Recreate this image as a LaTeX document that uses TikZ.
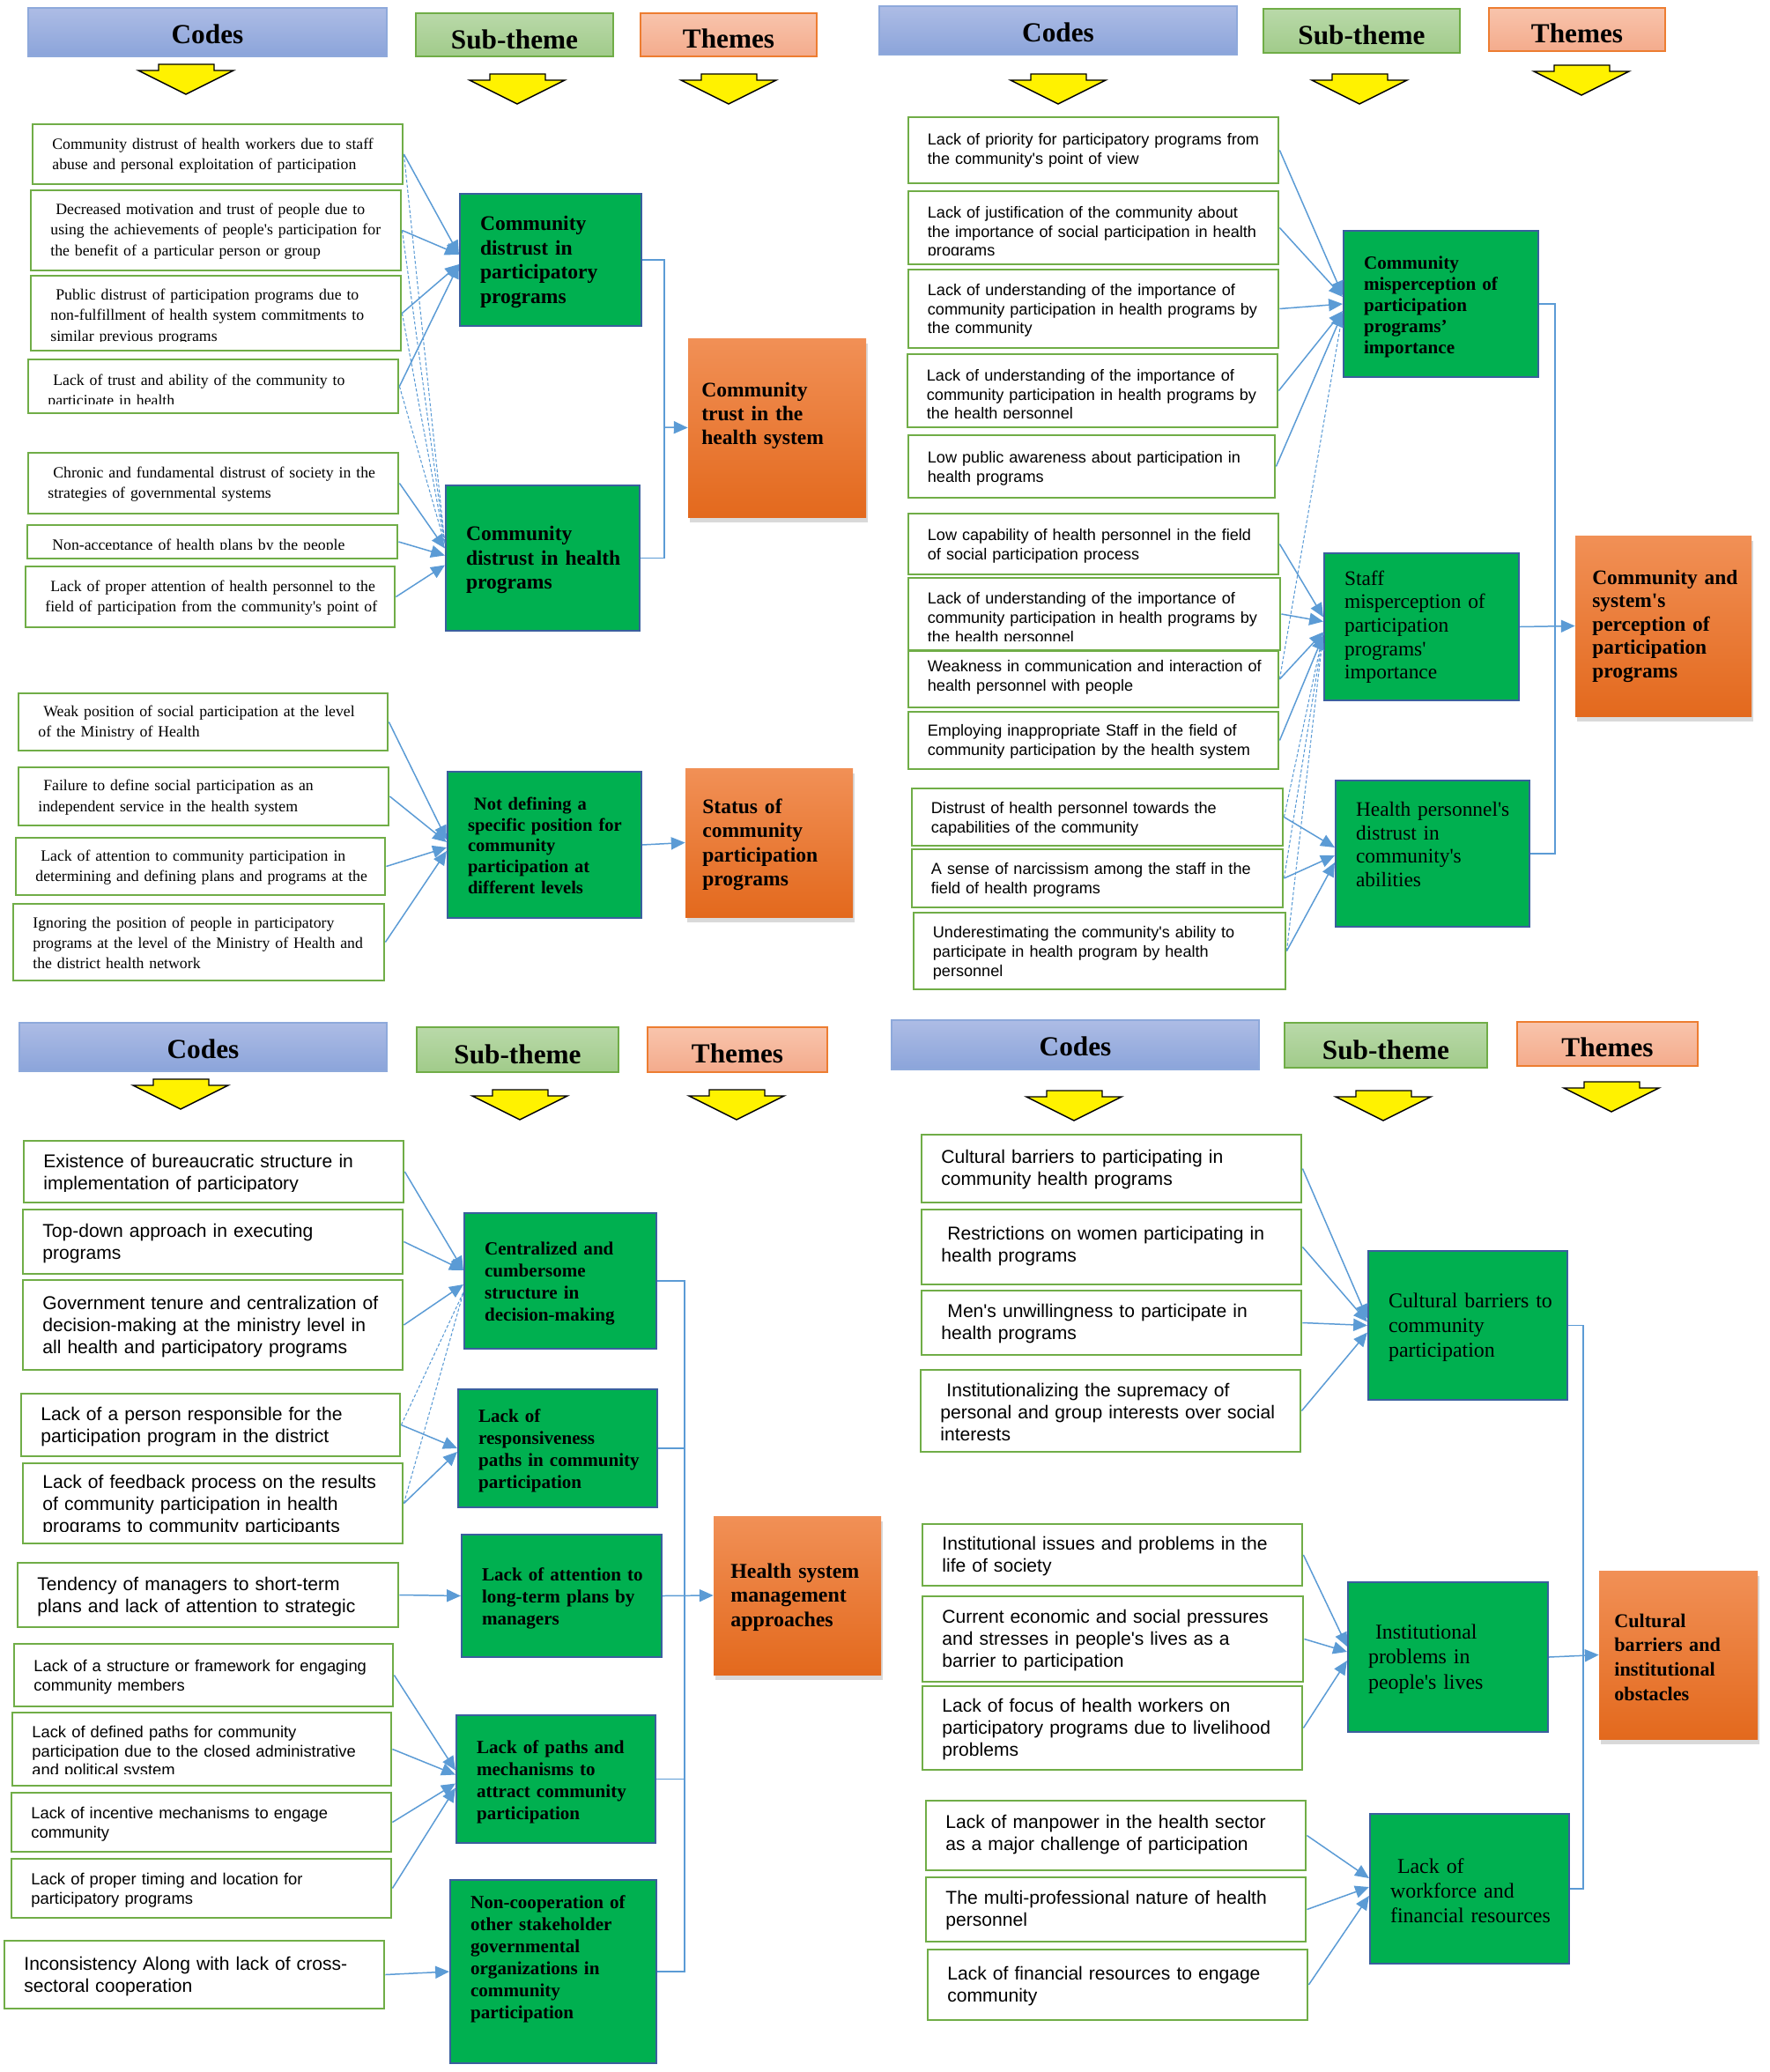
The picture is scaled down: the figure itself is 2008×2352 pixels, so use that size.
\documentclass[tikz,border=0pt]{standalone}
\usepackage{fontspec}
\setmainfont{Liberation Serif}[Ligatures=TeXOff]
\setsansfont{Liberation Sans}[Ligatures=TeXOff]
\usetikzlibrary{arrows.meta,fit,shadows}

\definecolor{codegreen}{HTML}{70AD47}
\definecolor{subgreen}{HTML}{00B050}
\definecolor{subblue}{HTML}{3A5F9E}
\definecolor{linkblue}{HTML}{5B9BD5}
\definecolor{themetop}{HTML}{F19056}
\definecolor{themebot}{HTML}{E3691D}
\definecolor{codestop}{HTML}{ADBCE5}
\definecolor{codesbot}{HTML}{8BA4DA}
\definecolor{codesline}{HTML}{8EA9DB}
\definecolor{subheadtop}{HTML}{B9D9A9}
\definecolor{subheadbot}{HTML}{A1CB8A}
\definecolor{themeheadtop}{HTML}{F8C4AC}
\definecolor{themeheadbot}{HTML}{F4AB8C}
\definecolor{themeheadline}{HTML}{ED7D31}

% yellow down arrow under a column head
\newcommand{\yarrow}[2]{\filldraw[fill=yellow, draw=black, line width=0.8pt, line join=miter, shift={(#1,#2)}] (23,0) -- (86,0) -- (86,7) -- (108,7) -- (54,34) -- (0,7) -- (23,7) -- cycle;}

\begin{document}
\begin{tikzpicture}[x=0.02cm, y=-0.02cm,
 clip inset/.initial=11,
 hdrtxt/.style={inner sep=0pt, font=\bfseries\fontsize{17.8}{20}\selectfont},
 hcodes/.style={draw=codesline, line width=1pt, top color=codestop, bottom color=codesbot, inner sep=0pt,
  path picture={\node[hdrtxt, yshift=-0.26cm] at (path picture bounding box.center) {#1};}},
 hsub/.style={draw=codegreen, line width=1pt, top color=subheadtop, bottom color=subheadbot, inner sep=0pt,
  path picture={\node[hdrtxt, yshift=-0.32cm] at (path picture bounding box.center) {#1};}},
 htheme/.style={draw=themeheadline, line width=1pt, top color=themeheadtop, bottom color=themeheadbot, inner sep=0pt,
  path picture={\node[hdrtxt, yshift=-0.3cm] at (path picture bounding box.center) {#1};}},
 codebox/.style={draw=codegreen, line width=1.6pt, fill=white, inner sep=0pt,
  path picture={\clip ([shift={(0,-\pgfkeysvalueof{/tikz/clip inset})}]path picture bounding box.south west) rectangle (path picture bounding box.north east);
   \node[codetxt] at (path picture bounding box.north west) {#1};}},
 codetxt/.style={anchor=north west, align=left, inner xsep=0.42cm, inner ysep=0.12cm},
 subbox/.style={draw=subblue, line width=1.2pt, fill=subgreen, inner sep=0pt,
  path picture={\node[subtxt] at (path picture bounding box.west) {#1};}},
 themebox/.style={top color=themetop, bottom color=themebot, inner sep=0pt,
  drop shadow={shadow xshift=0.04cm, shadow yshift=-0.12cm, opacity=0.3},
  path picture={\node[themetxt] at (path picture bounding box.west) {#1};}},
 arr/.style={draw=linkblue, line width=0.85pt, -{Triangle[length=9pt,width=8pt]}},
 dashlink/.style={draw=linkblue, line width=0.6pt, dash pattern=on 2pt off 1.3pt},
 busline/.style={draw=linkblue, line width=0.85pt}]
\useasboundingbox (0,0) rectangle (2008,2352);

% ---------- top left ----------
\begin{scope}[codetxt/.append style={font=\fontsize{10.1}{13.1}\selectfont, inner ysep=0.12cm},
 subtxt/.style={anchor=west, align=left, inner sep=0pt, xshift=0.44cm, yshift=-0.21cm, font=\bfseries\fontsize{13.4}{15.7}\selectfont},
 themetxt/.style={anchor=west, align=left, inner sep=0pt, xshift=0.38cm, yshift=-0.21cm, font=\bfseries\fontsize{13.4}{15.5}\selectfont}]
\node[hcodes=Codes, fit={(32,9) (439,64)}] (ah1) {};
\node[hsub=Sub-theme, fit={(472,15) (696,64)}] (ah2) {};
\node[htheme=Themes, fit={(727,15) (927,64)}] (ah3) {};
\yarrow{157}{73} \yarrow{533}{84} \yarrow{773}{84}

\node[codebox={Community distrust of health workers due to staff\\abuse and personal exploitation of participation}, fit={(37,141) (457,209)}] (a1) {};
\node[codebox={\ Decreased motivation and trust of people due to\\using the achievements of people's participation for\\the benefit of a particular person or group}, fit={(35,216) (455,307)}] (a2) {};
\node[codebox={\ Public distrust of participation programs due to\\non-fulfillment of health system commitments to\\similar previous programs}, codetxt/.append style={inner ysep=0.18cm}, fit={(35,313) (455,398)}] (a3) {};
\node[codebox={\ Lack of trust and ability of the community to\\participate in health}, codetxt/.append style={inner ysep=0.21cm}, fit={(32,408) (452,469)}] (a4) {};
\node[codebox={\ Chronic and fundamental distrust of society in the\\strategies of governmental systems}, fit={(32,514) (452,583)}] (a5) {};
\node[codebox={\ Non-acceptance of health plans by the people}, codetxt/.append style={inner ysep=0.21cm}, fit={(31,596) (451,634)}] (a6) {};
\node[codebox={\ Lack of proper attention of health personnel to the\\field of participation from the community's point of}, fit={(29,643) (448,712)}] (a7) {};
\node[codebox={\ Weak position of social participation at the level\\of the Ministry of Health}, fit={(21,787) (440,852)}] (a8) {};
\node[codebox={\ Failure to define social participation as an\\independent service in the health system}, fit={(21,871) (441,937)}] (a9) {};
\node[codebox={\ Lack of attention to community participation in\\determining and defining plans and programs at the}, fit={(18,951) (437,1016)}] (a10) {};
\node[codebox={Ignoring the position of people in participatory\\programs at the level of the Ministry of Health and\\the district health network}, fit={(15,1026) (436,1113)}] (a11) {};

\node[subbox={Community\\distrust in\\participatory\\programs}, fit={(522,220) (728,370)}] (as1) {};
\node[subbox={Community\\distrust in health\\programs}, fit={(506,551) (726,716)}] (as2) {};
\node[subbox={\ Not defining a\\specific position for\\community\\participation at\\different levels}, subtxt/.append style={yshift=0.05cm, font=\bfseries\fontsize{11.7}{13.6}\selectfont}, fit={(508,876) (728,1042)}] (as3) {};
\node[themebox={Community\\trust in the\\health system}, themetxt/.append style={xshift=-0.08cm, yshift=0.32cm}, fit={(781,384) (983,587)}] (at1) {};
\node[themebox={Status of\\community\\participation\\programs}, fit={(778,872) (968,1041)}] (at2) {};

\path (a1.east) edge[arr] ([shift={(0,-6)}]as1.west)
 (a2.east) edge[arr] ([shift={(0,-6)}]as1.west)
 (a3.east) edge[arr] ([shift={(0,5)}]as1.west)
 (a4.east) edge[arr] ([shift={(0,5)}]as1.west);
\foreach \k in {a1,a2,a3,a4}
 \draw[dashlink] (\k.east) -- ([shift={(0,-16)}]as2.west);
\path (a5.east) edge[arr] ([shift={(0,-11)}]as2.west)
 (a6.east) edge[arr] ([shift={(0,-3)}]as2.west)
 (a7.east) edge[arr] ([shift={(0,8)}]as2.west);
\path (a8.east) edge[arr] ([shift={(0,-6)}]as3.west)
 (a9.east) edge[arr] ([shift={(0,-3)}]as3.west)
 (a10.east) edge[arr] ([shift={(0,3)}]as3.west)
 (a11.east) edge[arr] ([shift={(0,7)}]as3.west);
\coordinate (abus) at (754,485);
\draw[busline] (as1.east) -| (abus) |- (as2.east);
\draw[arr] (abus) -- (at1.west);
\draw[arr] (as3.east) -- (at2.west);
\end{scope}

% ---------- top right ----------
\begin{scope}[codetxt/.append style={font=\sffamily\fontsize{10.3}{12.5}\selectfont, inner xsep=0.41cm, inner ysep=0.14cm},
 subtxt/.style={anchor=west, align=left, inner sep=0pt, xshift=0.44cm, yshift=-0.21cm, font=\fontsize{13.3}{15.2}\selectfont},
 themetxt/.style={anchor=west, align=left, inner sep=0pt, xshift=0.38cm, yshift=-0.17cm, font=\bfseries\fontsize{13.3}{15.1}\selectfont}]
\node[hcodes=Codes, fit={(998,7) (1404,62)}] (bh1) {};
\node[hsub=Sub-theme, fit={(1434,10) (1657,60)}] (bh2) {};
\node[htheme=Themes, fit={(1690,9) (1890,58)}] (bh3) {};
\yarrow{1147}{84} \yarrow{1489}{84} \yarrow{1741}{74}

\node[codebox={Lack of priority for participatory programs from\\the community's point of view}, codetxt/.append style={inner ysep=0.1cm}, fit={(1031,133) (1451,208)}] (b1) {};
\node[codebox={Lack of justification of the community about\\the importance of social participation in health\\programs}, codetxt/.append style={inner ysep=0.22cm}, fit={(1031,217) (1451,300)}] (b2) {};
\node[codebox={Lack of understanding of the importance of\\community participation in health programs by\\the community}, fit={(1031,306) (1451,395)}] (b3) {};
\node[codebox={Lack of understanding of the importance of\\community participation in health programs by\\the health personnel}, codetxt/.append style={inner ysep=0.22cm}, fit={(1030,402) (1450,485)}] (b4) {};
\node[codebox={Low public awareness about participation in\\health programs}, fit={(1031,494) (1447,565)}] (b5) {};
\node[codebox={Low capability of health personnel in the field\\of social participation process}, fit={(1031,583) (1451,652)}] (b6) {};
\node[codebox={Lack of understanding of the importance of\\community participation in health programs by\\the health personnel}, codetxt/.append style={inner ysep=0.22cm}, fit={(1031,656) (1453,738)}] (b7) {};
\node[codebox={Weakness in communication and interaction of\\health personnel with people}, codetxt/.append style={inner ysep=0.06cm}, fit={(1031,739) (1451,803)}] (b8) {};
\node[codebox={Employing inappropriate Staff in the field of\\community participation by the health system}, codetxt/.append style={inner ysep=0.12cm}, fit={(1031,808) (1451,873)}] (b9) {};
\node[codebox={Distrust of health personnel towards the\\capabilities of the community}, fit={(1035,895) (1456,960)}] (b10) {};
\node[codebox={A sense of narcissism among the staff in the\\field of health programs}, fit={(1035,964) (1456,1030)}] (b11) {};
\node[codebox={Underestimating the community's ability to\\participate in health program by health\\personnel}, fit={(1037,1036) (1459,1123)}] (b12) {};

\node[subbox={Community\\misperception of\\participation\\programs’\\importance}, subtxt/.append style={font=\bfseries\fontsize{12}{13.6}\selectfont}, fit={(1525,262) (1746,428)}] (bs1) {};
\node[subbox={Staff\\misperception of\\participation\\programs'\\importance}, subtxt/.append style={yshift=0.04cm}, fit={(1503,628) (1724,795)}] (bs2) {};
\node[subbox={Health personnel's\\distrust in\\community's\\abilities}, subtxt/.append style={yshift=0.26cm}, fit={(1516,886) (1736,1052)}] (bs3) {};
\node[themebox={Community and\\system's\\perception of\\participation\\programs}, fit={(1788,608) (1988,813)}] (bt1) {};

\path (b1.east) edge[arr] ([shift={(0,-10)}]bs1.west)
 (b2.east) edge[arr] ([shift={(0,-8)}]bs1.west)
 (b3.east) edge[arr] (bs1.west)
 (b4.east) edge[arr] ([shift={(0,8)}]bs1.west)
 (b5.east) edge[arr] ([shift={(0,10)}]bs1.west);
\draw[dashlink] (b8.east) -- ([shift={(0,10)}]bs1.west);
\path (b6.east) edge[arr] ([shift={(0,-11)}]bs2.west)
 (b7.east) edge[arr] ([shift={(0,-6)}]bs2.west)
 (b8.east) edge[arr] ([shift={(0,6)}]bs2.west)
 (b9.east) edge[arr] ([shift={(0,10)}]bs2.west);
\foreach \k in {b10,b11,b12}
 \draw[dashlink] (\k.east) -- ([shift={(0,7)}]bs2.west);
\path (b10.east) edge[arr] ([shift={(0,-7)}]bs3.west)
 (b11.east) edge[arr] ([shift={(0,2)}]bs3.west)
 (b12.east) edge[arr] ([shift={(0,10)}]bs3.west);
\coordinate (bbus) at (1765,711);
\draw[busline] (bs1.east) -| (bbus) |- (bs3.east);
\draw[arr] (bs2.east) -- (bt1.west);
\end{scope}

% ---------- bottom left ----------
\begin{scope}[codetxt/.append style={font=\sffamily\fontsize{12}{14.2}\selectfont, inner ysep=0.17cm},
 subtxt/.style={anchor=west, align=left, inner sep=0pt, xshift=0.44cm, yshift=-0.21cm, font=\bfseries\fontsize{12}{14.2}\selectfont},
 themetxt/.style={anchor=west, align=left, inner sep=0pt, xshift=0.38cm, yshift=-0.21cm, font=\bfseries\fontsize{13.6}{15.9}\selectfont}]
\node[hcodes=Codes, fit={(22,1161) (439,1216)}] (ch1) {};
\node[hsub=Sub-theme, fit={(473,1166) (702,1217)}] (ch2) {};
\node[htheme=Themes, fit={(735,1166) (939,1217)}] (ch3) {};
\yarrow{151}{1225} \yarrow{536}{1237} \yarrow{782}{1237}

\node[codebox={Existence of bureaucratic structure in\\implementation of participatory}, clip inset=13, fit={(27,1295) (458,1365)}] (c1) {};
\node[codebox={Top-down approach in executing\\programs}, fit={(26,1373) (457,1446)}] (c2) {};
\node[codebox={Government tenure and centralization of\\decision-making at the ministry level in\\all health and participatory programs}, fit={(26,1453) (457,1555)}] (c3) {};
\node[codebox={Lack of a person responsible for the\\participation program in the district}, fit={(24,1582) (454,1653)}] (c4) {};
\node[codebox={Lack of feedback process on the results\\of community participation in health\\programs to community participants}, clip inset=14, fit={(26,1661) (457,1752)}] (c5) {};
\node[codebox={Tendency of managers to short-term\\plans and lack of attention to strategic}, fit={(20,1774) (452,1847)}] (c6) {};
\begin{scope}[codetxt/.append style={font=\sffamily\fontsize{10.45}{12.5}\selectfont, inner ysep=0.15cm}]
\node[codebox={Lack of a structure or framework for engaging\\community members}, fit={(16,1866) (446,1937)}] (c7) {};
\node[codebox={Lack of defined paths for community\\participation due to the closed administrative\\and political system}, clip inset=14, codetxt/.append style={inner ysep=0.18cm}, fit={(14,1944) (444,2027)}] (c8) {};
\node[codebox={Lack of incentive mechanisms to engage\\community}, fit={(13,2035) (444,2102)}] (c9) {};
\node[codebox={Lack of proper timing and location for\\participatory programs}, fit={(13,2110) (444,2177)}] (c10) {};
\end{scope}
\node[codebox={Inconsistency Along with lack of cross-\\sectoral cooperation}, fit={(5,2203) (436,2280)}] (c11) {};

\node[subbox={Centralized and\\cumbersome\\structure in\\decision-making}, fit={(527,1377) (745,1531)}] (cs1) {};
\node[subbox={Lack of\\responsiveness\\paths in community\\participation}, fit={(520,1577) (746,1711)}] (cs2) {};
\node[subbox={Lack of attention to\\long-term plans by\\managers}, fit={(524,1742) (751,1881)}] (cs3) {};
\node[subbox={Lack of paths and\\mechanisms to\\attract community\\participation}, fit={(518,1947) (744,2092)}] (cs4) {};
\node[subbox={Non-cooperation of\\other stakeholder\\governmental\\organizations in\\community\\participation}, subtxt/.append style={yshift=0.34cm}, fit={(511,2134) (745,2342)}] (cs5) {};
\node[themebox={Health system\\management\\approaches}, fit={(810,1721) (1000,1901)}] (ct1) {};

\path (c1.east) edge[arr] ([shift={(0,-12)}]cs1.west)
 (c2.east) edge[arr] ([shift={(0,-12)}]cs1.west)
 (c3.east) edge[arr] ([shift={(0,4)}]cs1.west);
\foreach \k in {c4,c5}
 \draw[dashlink] (\k.east) -- ([shift={(0,13)}]cs1.west);
\path (c4.east) edge[arr] (cs2.west)
 (c5.east) edge[arr] ([shift={(0,4)}]cs2.west);
\path (c6.east) edge[arr] (cs3.west);
\path (c7.east) edge[arr] ([shift={(0,-10)}]cs4.west)
 (c8.east) edge[arr] ([shift={(0,-5)}]cs4.west)
 (c9.east) edge[arr] ([shift={(0,5)}]cs4.west)
 (c10.east) edge[arr] ([shift={(0,10)}]cs4.west);
\path (c11.east) edge[arr] (cs5.west);
\coordinate (cbus) at (777,1811);
\draw[busline] (cs1.east) -| (cbus) |- (cs5.east);
\draw[busline] (cs2.east) -- (cs2.east -| cbus);
\draw[busline] (cs4.east) -- (cs4.east -| cbus);
\draw[arr] (cs3.east) -- (ct1.west);
\end{scope}

% ---------- bottom right ----------
\begin{scope}[codetxt/.append style={font=\sffamily\fontsize{12}{14.2}\selectfont, inner ysep=0.15cm},
 subtxt/.style={anchor=west, align=left, inner sep=0pt, xshift=0.44cm, yshift=-0.21cm, font=\fontsize{13.6}{16}\selectfont},
 themetxt/.style={anchor=west, align=left, inner sep=0pt, xshift=0.34cm, yshift=-0.21cm, font=\bfseries\fontsize{12.6}{15.9}\selectfont}]
\node[hcodes=Codes, fit={(1012,1158) (1429,1214)}] (dh1) {};
\node[hsub=Sub-theme, fit={(1458,1161) (1688,1212)}] (dh2) {};
\node[htheme=Themes, fit={(1722,1160) (1927,1210)}] (dh3) {};
\yarrow{1165}{1238} \yarrow{1516}{1238} \yarrow{1775}{1228}

\node[codebox={Cultural barriers to participating in\\community health programs}, fit={(1046,1288) (1477,1365)}] (d1) {};
\node[codebox={\ Restrictions on women participating in\\health programs}, codetxt/.append style={inner ysep=0.1cm}, fit={(1046,1373) (1477,1458)}] (d2) {};
\node[codebox={\ Men's unwillingness to participate in\\health programs}, fit={(1046,1465) (1477,1538)}] (d3) {};
\node[codebox={\ Institutionalizing the supremacy of\\personal and group interests over social\\interests}, fit={(1045,1555) (1476,1648)}] (d4) {};
\node[codebox={Institutional issues and problems in the\\life of society}, fit={(1047,1730) (1478,1800)}] (d5) {};
\node[codebox={Current economic and social pressures\\and stresses in people's lives as a\\barrier to participation}, fit={(1047,1812) (1479,1909)}] (d6) {};
\node[codebox={Lack of focus of health workers on\\participatory programs due to livelihood\\problems}, fit={(1047,1914) (1478,2009)}] (d7) {};
\node[codebox={Lack of manpower in the health sector\\as a major challenge of participation}, codetxt/.append style={inner ysep=0.1cm}, fit={(1051,2044) (1482,2123)}] (d8) {};
\node[codebox={The multi-professional nature of health\\personnel}, fit={(1051,2131) (1482,2204)}] (d9) {};
\node[codebox={Lack of financial resources to engage\\community}, fit={(1053,2213) (1484,2293)}] (d10) {};

\node[subbox={Cultural barriers to\\community\\participation}, fit={(1553,1420) (1779,1589)}] (ds1) {};
\node[subbox={\ Institutional\\problems in\\people's lives}, fit={(1530,1796) (1757,1966)}] (ds2) {};
\node[subbox={\ Lack of\\workforce and\\financial resources}, fit={(1555,2059) (1781,2229)}] (ds3) {};
\node[themebox={Cultural\\barriers and\\institutional\\obstacles}, fit={(1815,1783) (1995,1974)}] (dt1) {};

\path (d1.east) edge[arr] ([shift={(0,-8)}]ds1.west)
 (d2.east) edge[arr] ([shift={(0,-4)}]ds1.west)
 (d3.east) edge[arr] (ds1.west)
 (d4.east) edge[arr] ([shift={(0,8)}]ds1.west);
\path (d5.east) edge[arr] ([shift={(0,-12)}]ds2.west)
 (d6.east) edge[arr] ([shift={(0,-6)}]ds2.west)
 (d7.east) edge[arr] ([shift={(0,4)}]ds2.west);
\path (d8.east) edge[arr] ([shift={(0,-12)}]ds3.west)
 (d9.east) edge[arr] ([shift={(0,-2)}]ds3.west)
 (d10.east) edge[arr] ([shift={(0,8)}]ds3.west);
\coordinate (dbus) at (1797,1880);
\draw[busline] (ds1.east) -| (dbus) |- (ds3.east);
\draw[arr] (ds2.east) -- (dt1.west);
\end{scope}
\end{tikzpicture}
\end{document}
